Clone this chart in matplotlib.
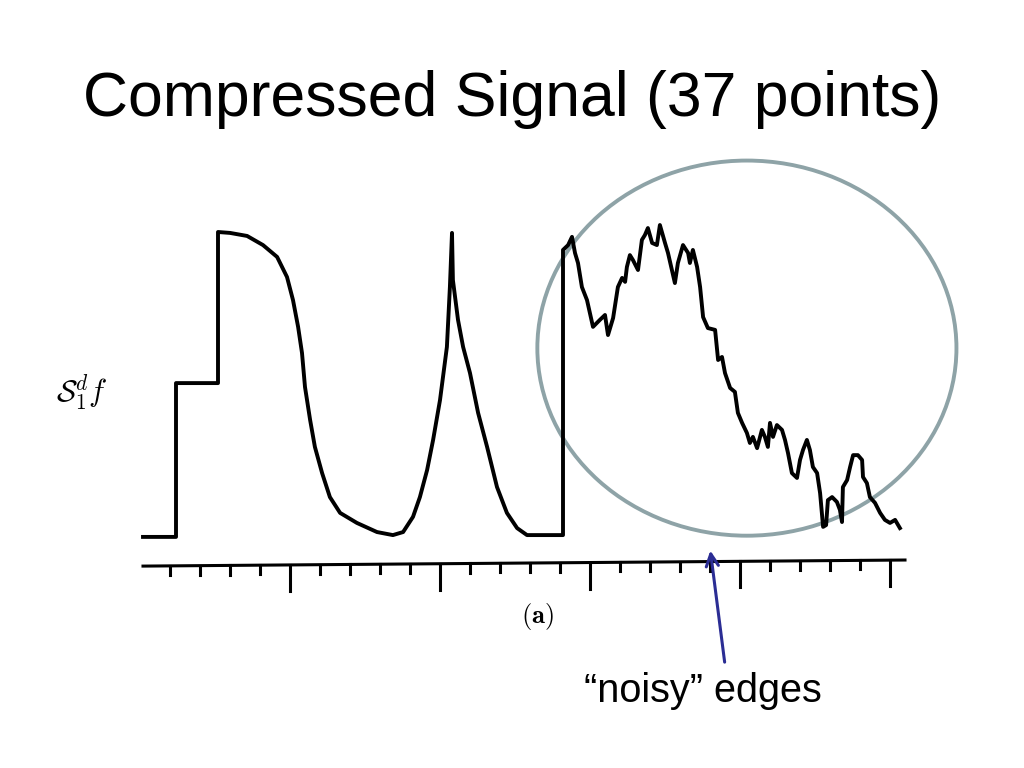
import numpy as np
import matplotlib.pyplot as plt
from matplotlib.patches import Ellipse

# sinal comprimido
# x em unidades de marca do eixo, y em % da altura maxima
parte_lisa_x = [-0.90, 0.20, 0.20, 1.60, 1.60, 2.00, 2.57, 3.10, 3.57, 3.90,
                4.10, 4.27, 4.40, 4.50, 4.67, 4.83, 5.07, 5.33, 5.67, 6.23,
                6.90, 7.43, 7.77, 8.10, 8.33, 8.57, 8.77, 9.00, 9.23, 9.33,
                9.40, 9.43, 9.60, 9.77, 10.00, 10.27, 10.57, 10.90, 11.23, 11.57,
                11.90, 13.10]
parte_lisa_y = [-0.3, -0.3, 50.3, 50.3, 100.0, 99.7, 98.7, 95.7, 91.8, 85.2,
                77.6, 68.8, 60.2, 49.0, 38.2, 29.3, 20.7, 12.8, 7.6, 4.3,
                1.3, 0.3, 1.3, 6.3, 12.8, 21.7, 31.6, 44.7, 62.2, 81.9,
                99.7, 84.2, 71.1, 62.2, 53.6, 40.5, 29.3, 16.1, 7.6, 2.6,
                0.3, 0.3]

parte_ruido_x = [13.10, 13.27, 13.40, 13.50, 13.60, 13.73, 13.90, 14.10, 14.33, 14.50,
                 14.60, 14.77, 14.93, 15.07, 15.17, 15.23, 15.33, 15.43, 15.60, 15.73,
                 15.83, 15.93, 16.07, 16.23, 16.33, 16.50, 16.60, 16.83, 16.93, 17.10,
                 17.27, 17.33, 17.43, 17.57, 17.67, 17.77, 17.93, 18.17, 18.27, 18.40,
                 18.50, 18.67, 18.83, 18.93, 19.07, 19.23, 19.33, 19.43, 19.57, 19.73,
                 19.83, 19.93, 20.00, 20.10, 20.23, 20.40, 20.50, 20.60, 20.73, 20.90,
                 21.00, 21.10, 21.23, 21.33, 21.43, 21.57, 21.67, 21.77, 21.87, 21.93,
                 22.07, 22.23, 22.33, 22.40, 22.43, 22.57, 22.67, 22.77, 22.93, 23.07,
                 23.10, 23.23, 23.33, 23.50, 23.67, 23.83, 24.00, 24.17, 24.33]
parte_ruido_y = [94.1, 95.7, 98.4, 93.1, 89.8, 81.9, 77.6, 68.8, 71.1, 72.7,
                 66.1, 71.7, 81.9, 84.9, 83.6, 88.5, 92.4, 90.8, 87.5, 97.4,
                 99.0, 101.3, 96.4, 95.7, 102.3, 96.4, 93.1, 83.2, 89.8, 95.7,
                 93.1, 89.8, 94.1, 88.5, 81.9, 72.0, 68.4, 67.8, 57.9, 58.9,
                 53.6, 48.7, 47.4, 40.5, 37.2, 33.9, 30.6, 32.6, 28.9, 34.9,
                 32.6, 29.3, 37.2, 32.6, 36.5, 34.9, 31.6, 27.3, 20.7, 19.1,
                 25.0, 28.3, 31.6, 28.3, 22.7, 20.7, 14.1, 3.0, 3.6, 11.8,
                 12.8, 11.2, 8.6, 4.6, 16.1, 18.4, 22.7, 26.6, 26.6, 25.0,
                 19.4, 17.4, 12.8, 10.9, 7.6, 5.3, 4.3, 5.3, 2.6]

# eixo horizontal com marcas
marcas = np.arange(0, 25)
marcas_maiores = [4, 9, 14, 19, 24]
eixo_x = [-0.9, 24.5]
eixo_y = [-9.9, -7.9]

# elipse de destaque
elipse_centro = (19.23, 61.8)
elipse_larg = 13.97
elipse_alt = 123.4

fig = plt.figure(figsize=(10.24, 7.68), dpi=100)
ax = fig.add_axes([0, 0, 1, 1])
ax.set_xlim(-170 / 30, (1024 - 170) / 30)
ax.set_ylim((536 - 768) / 3.04, 536 / 3.04)
ax.axis('off')

# sinal
sinal_x = parte_lisa_x + parte_ruido_x
sinal_y = parte_lisa_y + parte_ruido_y
ax.plot(sinal_x, sinal_y, color='black', lw=2.8, solid_joinstyle='round')

# eixo
ax.plot(eixo_x, eixo_y, color='black', lw=2.2)
for m in marcas:
    y0 = np.interp(m, eixo_x, eixo_y)
    comp = 8.6 if m in marcas_maiores else 3.0
    ax.plot([m, m], [y0, y0 - comp], color='black', lw=2.2)

ax.text(12.23, -26.6, r'$\mathbf{(a)}$', ha='center', va='center', fontsize=19,
        math_fontfamily='cm')
ax.text(-2.93, 47.0, r'$\mathcal{S}_1^d f$', ha='center', va='center',
        fontsize=22, math_fontfamily='cm')

# destaque
ax.add_patch(Ellipse(elipse_centro, elipse_larg, elipse_alt, fill=False,
                     edgecolor='#8ea3a7', lw=2.8))
ax.annotate('', xy=(18.0, -3.9), xytext=(18.5, -42.4),
            arrowprops=dict(arrowstyle='->', color='#2b2d94', lw=2.2,
                            mutation_scale=22))
ax.text(17.77, -51.0, '\u201cnoisy\u201d edges', ha='center', va='center',
        fontsize=28.5, family='Liberation Sans')

fig.text(0.5, 0.87, 'Compressed Signal (37 points)', ha='center', va='center',
         fontsize=45, family='Liberation Sans')

fig.savefig('out.png', dpi=100)
